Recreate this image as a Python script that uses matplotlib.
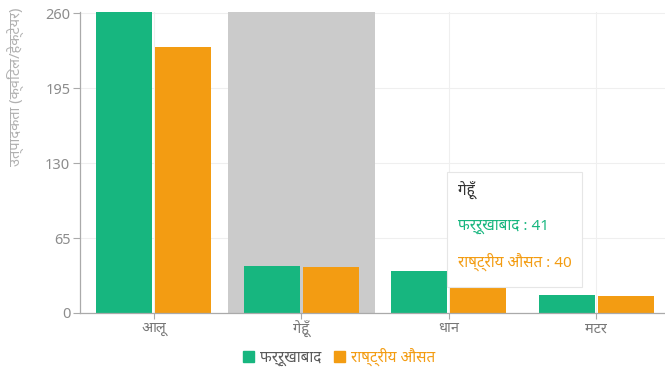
import numpy as np
import matplotlib
matplotlib.use("Agg")
import matplotlib.pyplot as plt
from matplotlib.patches import Patch, FancyBboxPatch

plt.rcParams['font.family'] = ['Noto Sans', 'Noto Sans Devanagari', 'DejaVu Sans']

# फसलें और उत्पादकता (क्विंटल/हेक्टेयर)
fasal = ['आलू', 'गेहूँ', 'धान', 'मटर']
farrukhabad = [268, 41, 36, 16]
rashtriya_ausat = [231, 40, 22, 15]
y_ticks = [0, 65, 130, 195, 260]

naam_jila = 'फर्रूखाबाद'
naam_ausat = 'राष्ट्रीय औसत'
y_label = 'उत्पादकता (क्विंटल/हेक्टेयर)'
chuna = 1  # जिस फसल पर टूलटिप दिखाना है

hara = '#17b67f'
narangi = '#f39c12'
dhusar = '#8c8c8c'

W, H = 665, 369
fig = plt.figure(figsize=(W / 100, H / 100), dpi=100)
ax = fig.add_axes([80 / W, 1 - 313 / H, 590 / W, 301 / H])

x = np.arange(len(fasal))
w = 0.38

# ग्रिड और चुनी हुई फसल की पट्टी
for t in y_ticks:
    ax.axhline(t, color='#efefef', lw=0.8, zorder=0)
for xi in x:
    ax.axvline(xi, color='#efefef', lw=0.8, zorder=0)
ax.axvspan(chuna - 0.5, chuna + 0.5, color='#cbcbcb', lw=0, zorder=1)

ax.bar(x - 0.2, farrukhabad, w, color=hara, zorder=2)
ax.bar(x + 0.2, rashtriya_ausat, w, color=narangi, zorder=2)

ax.set_xlim(-0.5, len(fasal) - 0.5)
ax.set_ylim(0, 261)
ax.set_yticks(y_ticks)
ax.set_xticks(x)
ax.set_xticklabels(fasal)
ax.tick_params(axis='y', colors='#aaaaaa', labelcolor=dhusar, labelsize=10.5, length=5, width=0.8, pad=2)
ax.tick_params(axis='x', colors='#aaaaaa', labelcolor='#777777', labelsize=10.5, length=4, width=0.8, pad=2)
for s in ['top', 'right']:
    ax.spines[s].set_visible(False)
for s in ['left', 'bottom']:
    ax.spines[s].set_color('#aaaaaa')
    ax.spines[s].set_linewidth(0.9)

fig.text(15 / W, 1 - 166 / H, y_label, rotation=90, ha='center', va='bottom',
         color='#b0b0b0', fontsize=10.5)

# टूलटिप
tx0, ty0, tx1, ty1 = 447, 172, 582, 287
box = FancyBboxPatch((tx0 / W, 1 - ty1 / H), (tx1 - tx0) / W, (ty1 - ty0) / H,
                     boxstyle='square,pad=0', transform=fig.transFigure,
                     facecolor='white', edgecolor='#e6e6e6', lw=0.8, zorder=5)
fig.add_artist(box)
fig.text(458 / W, 1 - 191 / H, fasal[chuna], color='#333333', fontsize=11,
         fontweight='bold', va='center', zorder=6)
fig.text(458 / W, 1 - 226 / H, f'{naam_jila} : {farrukhabad[chuna]}', color=hara,
         fontsize=11, va='center', zorder=6)
fig.text(458 / W, 1 - 262 / H, f'{naam_ausat} : {rashtriya_ausat[chuna]}', color=narangi,
         fontsize=11, va='center', zorder=6)

# लेजेंड
handles = [Patch(color=hara), Patch(color=narangi)]
leg = fig.legend(handles, [naam_jila, naam_ausat], ncol=2, loc='center',
                 bbox_to_anchor=(339 / W, 1 - 357 / H), frameon=False, fontsize=11,
                 handlelength=0.75, handleheight=0.75, handletextpad=0.4,
                 columnspacing=0.8, borderpad=0)
leg.get_texts()[0].set_color('#5a5a5a')
leg.get_texts()[1].set_color(narangi)

fig.savefig('out.png', dpi=100)
